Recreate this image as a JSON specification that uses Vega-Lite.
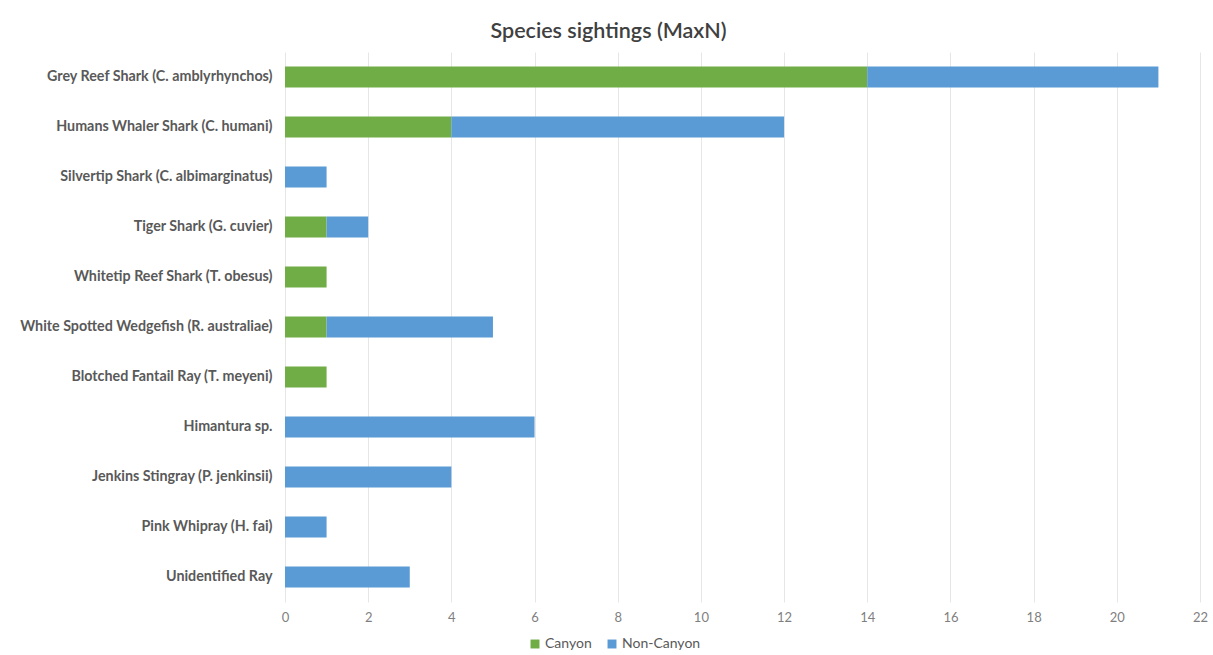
{
  "$schema": "https://vega.github.io/schema/vega-lite/v6.json",
  "autosize": {"type": "none"},
  "padding": {"left": 285, "top": 52, "right": 13, "bottom": 53},
  "width": 915,
  "height": 550,
  "background": "white",
  "title": {
    "text": "Species sightings (MaxN)",
    "frame": "bounds",
    "anchor": "middle",
    "dx": -5,
    "font": "Lato",
    "fontSize": 21.5,
    "fontWeight": 600,
    "color": "#404040",
    "offset": 10
  },
  "data": {
    "values": [
      {"species": "Grey Reef Shark (C. amblyrhynchos)", "site": "Canyon", "maxn": 14},
      {"species": "Grey Reef Shark (C. amblyrhynchos)", "site": "Non-Canyon", "maxn": 7},
      {"species": "Humans Whaler Shark (C. humani)", "site": "Canyon", "maxn": 4},
      {"species": "Humans Whaler Shark (C. humani)", "site": "Non-Canyon", "maxn": 8},
      {"species": "Silvertip Shark (C. albimarginatus)", "site": "Canyon", "maxn": 0},
      {"species": "Silvertip Shark (C. albimarginatus)", "site": "Non-Canyon", "maxn": 1},
      {"species": "Tiger Shark (G. cuvier)", "site": "Canyon", "maxn": 1},
      {"species": "Tiger Shark (G. cuvier)", "site": "Non-Canyon", "maxn": 1},
      {"species": "Whitetip Reef Shark (T. obesus)", "site": "Canyon", "maxn": 1},
      {"species": "Whitetip Reef Shark (T. obesus)", "site": "Non-Canyon", "maxn": 0},
      {"species": "White Spotted Wedgefish (R. australiae)", "site": "Canyon", "maxn": 1},
      {"species": "White Spotted Wedgefish (R. australiae)", "site": "Non-Canyon", "maxn": 4},
      {"species": "Blotched Fantail Ray (T. meyeni)", "site": "Canyon", "maxn": 1},
      {"species": "Blotched Fantail Ray (T. meyeni)", "site": "Non-Canyon", "maxn": 0},
      {"species": "Himantura sp.", "site": "Canyon", "maxn": 0},
      {"species": "Himantura sp.", "site": "Non-Canyon", "maxn": 6},
      {"species": "Jenkins Stingray (P. jenkinsii)", "site": "Canyon", "maxn": 0},
      {"species": "Jenkins Stingray (P. jenkinsii)", "site": "Non-Canyon", "maxn": 4},
      {"species": "Pink Whipray (H. fai)", "site": "Canyon", "maxn": 0},
      {"species": "Pink Whipray (H. fai)", "site": "Non-Canyon", "maxn": 1},
      {"species": "Unidentified Ray", "site": "Canyon", "maxn": 0},
      {"species": "Unidentified Ray", "site": "Non-Canyon", "maxn": 3}
    ]
  },
  "mark": {"type": "bar"},
  "encoding": {
    "y": {
      "field": "species",
      "type": "nominal",
      "sort": null,
      "scale": {"paddingInner": 0.58, "paddingOuter": 0.29},
      "axis": {
        "title": null,
        "ticks": false,
        "domain": false,
        "labelPadding": 13,
        "labelFont": "Lato",
        "labelFontSize": 14.3,
        "labelFontWeight": "bold",
        "labelColor": "#595959",
        "labelLimit": 400
      }
    },
    "x": {
      "field": "maxn",
      "type": "quantitative",
      "stack": "zero",
      "scale": {"domain": [0, 22], "nice": false},
      "axis": {
        "title": null,
        "values": [0, 2, 4, 6, 8, 10, 12, 14, 16, 18, 20, 22],
        "ticks": false,
        "domain": false,
        "grid": true,
        "gridColor": "#e6e6e6",
        "gridWidth": 1,
        "labelFlush": false,
        "labelPadding": 9,
        "labelFont": "Lato",
        "labelFontSize": 13,
        "labelColor": "#7f7f7f"
      }
    },
    "color": {
      "field": "site",
      "type": "nominal",
      "scale": {"domain": ["Canyon", "Non-Canyon"], "range": ["#70AD47", "#5B9BD5"]},
      "legend": {
        "title": null,
        "orient": "none",
        "direction": "horizontal",
        "legendX": 243,
        "legendY": 585,
        "symbolType": "square",
        "symbolSize": 80,
        "symbolStrokeWidth": 0,
        "labelFont": "Lato",
        "labelFontSize": 14,
        "labelColor": "#595959",
        "labelOffset": 3,
        "columnPadding": 13
      }
    },
    "order": {"field": "site", "sort": "ascending"}
  },
  "config": {
    "view": {"stroke": null}
  }
}
